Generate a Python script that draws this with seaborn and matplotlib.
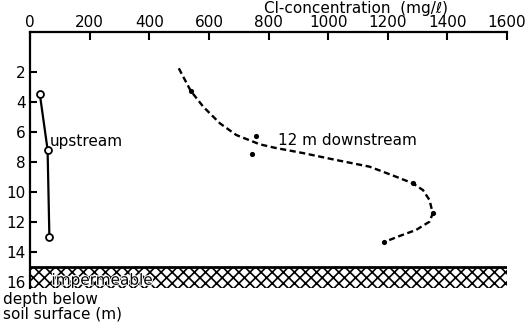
import matplotlib
matplotlib.use("Agg")
import matplotlib.pyplot as plt
import matplotlib.patheffects as pe
from matplotlib.patches import Rectangle
import seaborn as sns
import pandas as pd

# Chloride concentration (mg/l) against depth below soil surface (m)
upstream_conc = [33, 59, 65]
upstream_depth = [3.5, 7.2, 13.0]

# 12 m downstream: traced profile and sampled points
down_curve_conc = [499, 539, 581, 637, 692, 771, 821, 915, 1028, 1139, 1228,
                   1284, 1318, 1340, 1351, 1340, 1295, 1240, 1189]
down_curve_depth = [1.77, 3.27, 4.33, 5.44, 6.22, 6.84, 7.07, 7.42, 7.89, 8.33,
                    9.0, 9.44, 9.89, 10.55, 11.44, 12.0, 12.55, 12.95, 13.35]
down_pts_conc = [539, 759, 743, 1284, 1351, 1189]
down_pts_depth = [3.3, 6.3, 7.5, 9.44, 11.44, 13.35]

x_ticks = [0, 200, 400, 600, 800, 1000, 1200, 1400, 1600]
y_ticks = [2, 4, 6, 8, 10, 12, 14, 16]
impermeable_top = 15.0
depth_max = 16.4

sns.set_style("ticks")
plt.rcParams["font.family"] = ["DejaVu Sans"]
plt.rcParams["text.color"] = "black"
plt.rcParams["hatch.linewidth"] = 1.2
FS = 11

W, H = 527, 327
fig = plt.figure(figsize=(W / 100, H / 100), dpi=100)
ax = fig.add_axes([30 / W, 1 - 287.7 / H, 477 / W, 255.7 / H])

up = pd.DataFrame({"conc": upstream_conc, "depth": upstream_depth})
dc = pd.DataFrame({"conc": down_curve_conc, "depth": down_curve_depth})
dp = pd.DataFrame({"conc": down_pts_conc, "depth": down_pts_depth})

sns.lineplot(data=dc, x="conc", y="depth", sort=False, estimator=None, ax=ax,
             color="black", lw=1.7, linestyle=(0, (2.6, 1.5)))
sns.scatterplot(data=dp, x="conc", y="depth", ax=ax, color="black", s=14,
                edgecolor="black", linewidth=0, zorder=4)
sns.lineplot(data=up, x="conc", y="depth", sort=False, estimator=None, ax=ax,
             color="black", lw=1.6, marker="o", markersize=5,
             markerfacecolor="white", markeredgecolor="black",
             markeredgewidth=1.3)

# impermeable layer
ax.add_patch(Rectangle((0, impermeable_top), 1600, depth_max - impermeable_top,
                       facecolor="white", edgecolor="black", hatch="xxx",
                       linewidth=0, zorder=1))
ax.plot([0, 1600], [impermeable_top, impermeable_top], color="black", lw=2,
        zorder=2)

ax.set_xlim(0, 1600)
ax.set_ylim(depth_max, -0.65)

for side in ["right", "bottom"]:
    ax.spines[side].set_visible(False)
for side in ["top", "left"]:
    ax.spines[side].set_linewidth(1.6)
    ax.spines[side].set_color("black")

ax.xaxis.tick_top()
ax.set_xticks(x_ticks)
ax.set_xticklabels([str(v) for v in x_ticks])
ax.set_yticks(y_ticks)
ax.set_yticklabels([str(v) for v in y_ticks])
ax.tick_params(axis="x", direction="in", length=6, width=1.5, pad=1.5,
               labelsize=FS, colors="black")
ax.tick_params(axis="y", direction="in", length=5, width=1.5, pad=3,
               labelsize=FS, colors="black")
ax.set_xlabel("")
ax.set_ylabel("")

fig.text(356 / W, 1 - 1 / H, "Cl-concentration  (mg/\u2113)", fontsize=FS,
         ha="center", va="top")
fig.text(3 / W, 1 - 292 / H, "depth below\nsoil surface (m)", fontsize=FS,
         ha="left", va="top", linespacing=0.95)

ax.text(67, 6.67, "upstream", fontsize=FS, ha="left", va="center")
ax.text(831, 6.6, "12 m downstream", fontsize=FS, ha="left", va="center")
ax.text(72, 15.9, "impermeable", fontsize=FS, ha="left", va="center",
        zorder=3,
        path_effects=[pe.withStroke(linewidth=1.5, foreground="white")])

fig.savefig("out.png", dpi=100)
